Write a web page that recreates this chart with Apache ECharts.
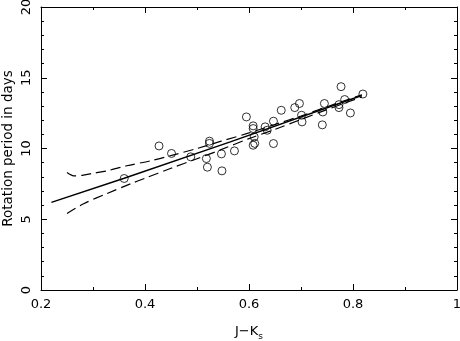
<!DOCTYPE html>
<html>
<head>
<meta charset="utf-8">
<script src="https://cdn.jsdelivr.net/npm/echarts@6/dist/echarts.min.js"></script>
<style>
  html, body { margin: 0; padding: 0; background: #fff; }
  #chart { width: 460px; height: 341px; }
</style>
</head>
<body>
<div id="chart"></div>
<script>
  // observed stars: J-Ks colour vs rotation period
  const jk = [0.360, 0.427, 0.451, 0.488, 0.518, 0.520, 0.524, 0.524, 0.547, 0.548,
    0.572, 0.595, 0.608, 0.608, 0.610, 0.608, 0.611, 0.631, 0.635, 0.647,
    0.647, 0.662, 0.688, 0.697, 0.701, 0.702, 0.742, 0.745, 0.741, 0.773,
    0.773, 0.777, 0.784, 0.795, 0.819];
  const period = [7.88, 10.18, 9.65, 9.41, 9.29, 8.68, 10.52, 10.36, 9.62, 8.42,
    9.83, 12.23, 11.60, 11.41, 10.82, 10.23, 10.36, 11.53, 11.29, 11.93,
    10.35, 12.70, 12.89, 13.18, 12.35, 11.88, 12.58, 13.18, 11.67, 12.89,
    13.10, 14.37, 13.46, 12.51, 13.85];

  // fit and its confidence band
  const fitX = [0.22, 0.36, 0.564, 0.817];
  const fitY = [6.19, 7.9, 10.47, 13.75];
  const upperX = [0.25, 0.263, 0.279, 0.30, 0.327, 0.365, 0.413, 0.455, 0.50, 0.545, 0.60, 0.65, 0.70, 0.75, 0.817];
  const upperY = [8.3, 8.07, 8.1, 8.25, 8.42, 8.78, 9.15, 9.55, 10.0, 10.5, 11.1, 11.7, 12.3, 12.95, 13.8];
  const lowerX = [0.25, 0.282, 0.327, 0.372, 0.40, 0.45, 0.50, 0.545, 0.60, 0.65, 0.70, 0.75, 0.817];
  const lowerY = [5.41, 6.1, 6.82, 7.5, 7.9, 8.6, 9.28, 9.9, 10.7, 11.35, 12.05, 12.75, 13.65];

  const pairs = (xs, ys) => xs.map((x, i) => [x, ys[i]]);

  const font = 'DejaVu Sans';
  const axisLine = { show: true, onZero: false, lineStyle: { color: '#000', width: 1 } };
  const tick = { show: true, inside: true, length: 6, lineStyle: { color: '#000' } };
  const minor = (n) => ({ show: true, splitNumber: n, length: 3, lineStyle: { color: '#000' } });

  const chart = echarts.init(document.getElementById('chart'));
  chart.setOption({
    animation: false,
    backgroundColor: '#fff',
    grid: { left: 41, right: 3, top: 7, bottom: 51, containLabel: false, outerBoundsMode: 'none' },
    xAxis: [
      {
        type: 'value',
        min: 0.2,
        max: 1,
        interval: 0.2,
        axisLine,
        axisTick: tick,
        minorTick: minor(2),
        splitLine: { show: false },
        axisLabel: { color: '#000', fontFamily: font, fontSize: 13, margin: 8 },
        name: 'J\u2212K{s|s}',
        nameLocation: 'middle',
        nameGap: 33,
        nameMoveOverlap: false,
        nameTextStyle: {
          color: '#000',
          fontFamily: font,
          fontSize: 13,
          rich: { s: { fontFamily: font, fontSize: 9, color: '#000', padding: [9, 0, 0, 0] } },
        },
      },
      {
        type: 'value',
        position: 'top',
        min: 0.2,
        max: 1,
        interval: 0.2,
        axisLine,
        axisTick: tick,
        minorTick: minor(2),
        splitLine: { show: false },
        axisLabel: { show: false },
      },
    ],
    yAxis: [
      {
        type: 'value',
        min: 0,
        max: 20,
        interval: 5,
        axisLine,
        axisTick: tick,
        minorTick: minor(5),
        splitLine: { show: false },
        axisLabel: { color: '#000', fontFamily: font, fontSize: 13, rotate: 90, margin: 8 },
        name: 'Rotation period in days',
        nameLocation: 'middle',
        nameGap: 26,
        nameMoveOverlap: false,
        nameTextStyle: { color: '#000', fontFamily: font, fontSize: 13.5 },
      },
      {
        type: 'value',
        position: 'right',
        min: 0,
        max: 20,
        interval: 5,
        axisLine,
        axisTick: tick,
        minorTick: minor(5),
        splitLine: { show: false },
        axisLabel: { show: false },
      },
    ],
    series: [
      {
        type: 'line',
        data: pairs(fitX, fitY),
        showSymbol: false,
        lineStyle: { color: '#000', width: 1.5 },
      },
      {
        type: 'line',
        data: pairs(upperX, upperY),
        showSymbol: false,
        smooth: 0.3,
        lineStyle: { color: '#000', width: 1.2, type: [10, 5] },
      },
      {
        type: 'line',
        data: pairs(lowerX, lowerY),
        showSymbol: false,
        smooth: 0.3,
        lineStyle: { color: '#000', width: 1.2, type: [10, 5] },
      },
      {
        type: 'scatter',
        data: pairs(jk, period),
        symbol: 'circle',
        symbolSize: 8,
        itemStyle: { color: 'transparent', borderColor: '#000', borderWidth: 1 },
      },
    ],
  });
</script>
</body>
</html>
